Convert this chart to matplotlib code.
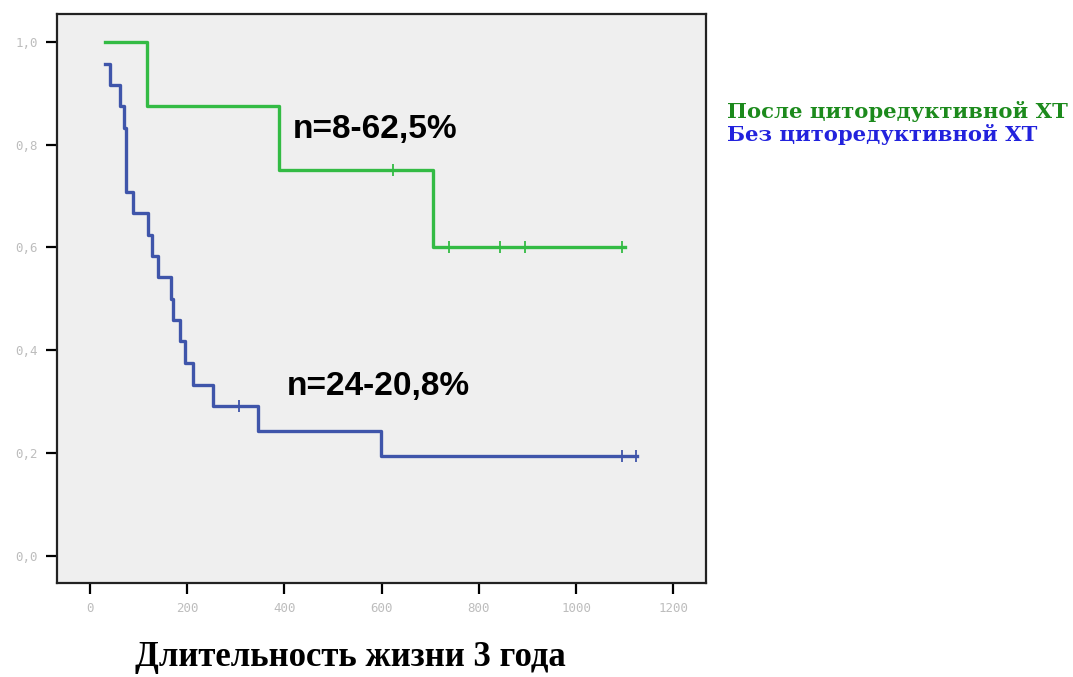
import numpy as np
import matplotlib.pyplot as plt
from matplotlib.ticker import FuncFormatter

# Kaplan-Meier data (time in days, survival fraction)
green_times = [32, 118, 390, 706, 1100]
green_surv = [1.0, 0.875, 0.75, 0.6, 0.6]
green_censor_t = [624, 739, 844, 895, 1095]
green_censor_s = [0.75, 0.6, 0.6, 0.6, 0.6]

blue_times = [32, 43, 63, 70, 75, 90, 120, 129, 140, 168, 171, 185, 196, 213,
              254, 347, 599, 1125]
blue_surv = [0.958, 0.917, 0.875, 0.833, 0.708, 0.667, 0.625, 0.583, 0.542,
             0.5, 0.458, 0.417, 0.375, 0.333, 0.292, 0.243, 0.194, 0.194]
blue_censor_t = [308, 1095, 1123]
blue_censor_s = [0.292, 0.194, 0.194]

x_ticks = [0, 200, 400, 600, 800, 1000, 1200]
y_ticks = [0.0, 0.2, 0.4, 0.6, 0.8, 1.0]

legend_labels = ['После циторедуктивной ХТ', 'Без циторедуктивной ХТ']
annot_labels = ['n=8-62,5%', 'n=24-20,8%']
xlabel = 'Длительность жизни 3 года'

green = '#33bb44'
blue = '#3f55aa'

fig = plt.figure(figsize=(10.73, 6.77), dpi=100)
ax = fig.add_axes([0.0531, 0.139, 0.6049, 0.840])
ax.set_facecolor('#efefef')

ax.step(green_times, green_surv, where='post', color=green, lw=2.4)
ax.plot(green_censor_t, green_censor_s, ls='none', marker='|', color=green,
        ms=8, mew=1.3)
ax.step(blue_times, blue_surv, where='post', color=blue, lw=2.4)
ax.plot(blue_censor_t, blue_censor_s, ls='none', marker='|', color=blue,
        ms=8, mew=1.3)

ax.set_xlim(-67, 1267)
ax.set_ylim(-0.053, 1.054)
ax.set_xticks(x_ticks)
ax.set_yticks(y_ticks)
ax.yaxis.set_major_formatter(FuncFormatter(lambda v, p: f'{v:.1f}'.replace('.', ',')))
ax.tick_params(direction='out', length=8, width=1.6, color='black',
               labelsize=9, labelcolor='#bdbdbd', pad=6)
for lab in ax.get_xticklabels() + ax.get_yticklabels():
    lab.set_family('DejaVu Sans Mono')
for sp in ax.spines.values():
    sp.set_linewidth(1.6)
    sp.set_color('#222222')

ax.text(418, 0.813, annot_labels[0], fontsize=24, fontweight='bold',
        family='Liberation Sans', color='black')
ax.text(406, 0.313, annot_labels[1], fontsize=24, fontweight='bold',
        family='Liberation Sans', color='black')

# legend texts outside the plot, right side
fig.text(0.678, 0.826, legend_labels[0], fontsize=15.2, fontweight='bold',
         family='DejaVu Serif', color='#1c8a1c')
fig.text(0.678, 0.792, legend_labels[1], fontsize=15.2, fontweight='bold',
         family='DejaVu Serif', color='#2222dd')

fig.text(0.327, 0.016, xlabel, fontsize=25, fontweight='bold',
         family='Liberation Serif', color='black', ha='center')

fig.savefig('out.png', dpi=100)
